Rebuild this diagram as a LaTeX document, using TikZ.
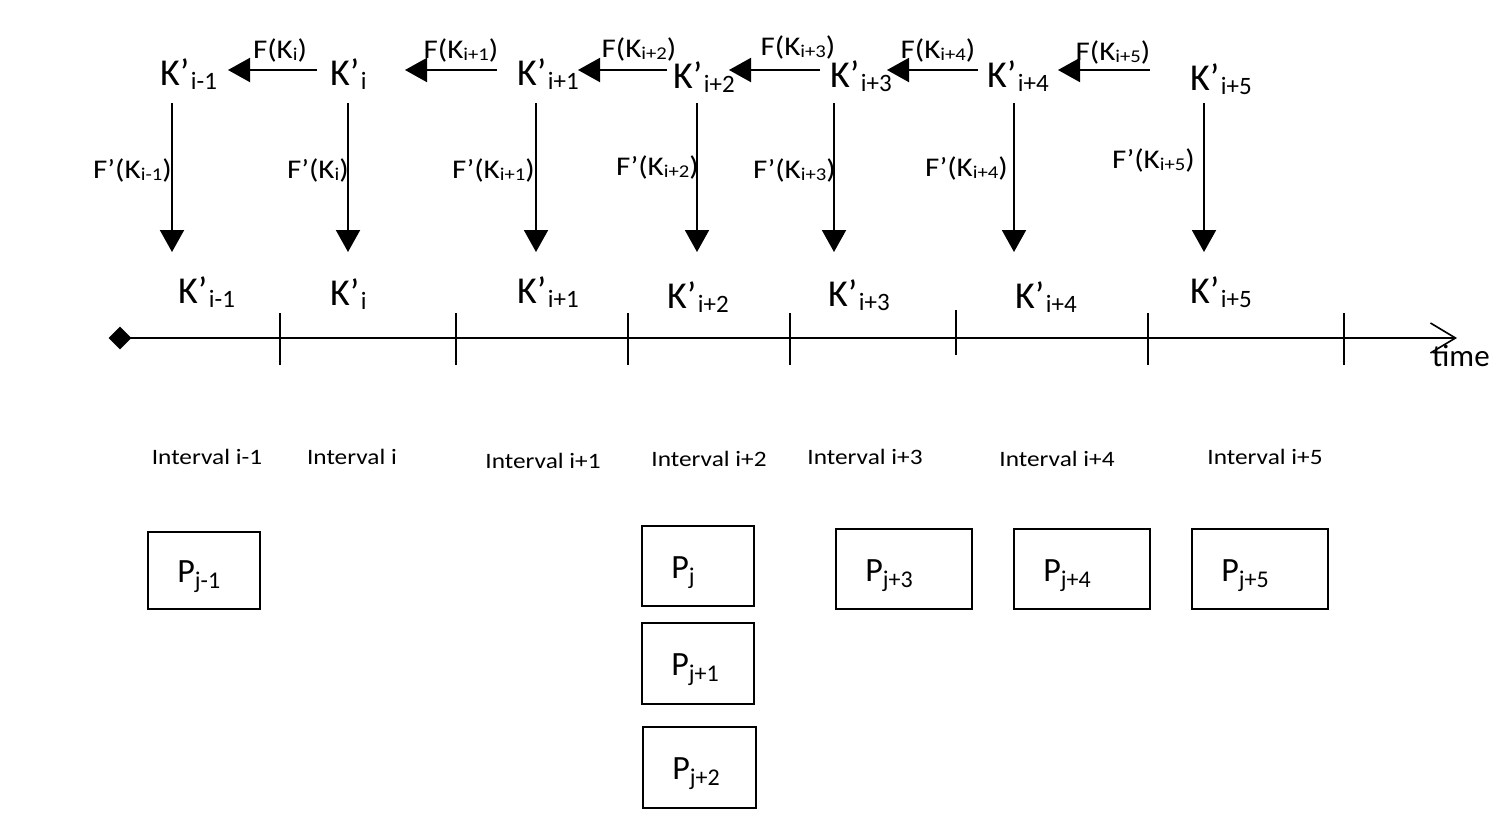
\documentclass[tikz,border=0pt]{standalone}
\usepackage{fontspec}
\setmainfont{Carlito}
\newfontfamily\widefont{Carlito}[FakeStretch=1.15]
\usetikzlibrary{arrows.meta,shapes.geometric}
\newcommand\kp[1]{K’\kern1.5pt{\fontsize{25}{25}\selectfont\raisebox{-4pt}{#1}}}
\newcommand\fl[2]{#1(K{\fontsize{18}{18}\selectfont\raisebox{-2pt}{#2}})}
\newcommand\pp[1]{P{\fontsize{24}{24}\selectfont\raisebox{-6pt}{#1}}}
\begin{document}
\begin{tikzpicture}[x=1pt,y=-1pt,
  kstyle/.style={inner sep=0pt,anchor=base west,font=\fontsize{38}{38}\selectfont},
  flab/.style={inner sep=0pt,font=\widefont\fontsize{27}{27}\selectfont},
  ivl/.style={inner sep=0pt,font=\widefont\fontsize{22}{22}\selectfont},
  pbox/.style={draw,line width=1.6pt,inner sep=0pt,minimum width=112pt,minimum height=80pt},
  ptxt/.style={inner sep=0pt,anchor=base west,font=\fontsize{34}{34}\selectfont},
  harr/.style={line width=2pt,-{Triangle[length=22pt,width=24pt]}},
  tick/.style={line width=1.6pt},
]
\useasboundingbox (0,0) rectangle (1502,830);

% top row
\node[kstyle] (t1) at (160,85) {\kp{i-1}};
\node[kstyle] (t2) at (330,85) {\kp{i}};
\node[kstyle] (t3) at (517,85) {\kp{i+1}};
\node[kstyle] (t4) at (673,88) {\kp{i+2}};
\node[kstyle] (t5) at (830,87) {\kp{i+3}};
\node[kstyle] (t6) at (987,87) {\kp{i+4}};
\node[kstyle] (t7) at (1190,90) {\kp{i+5}};

% bottom row
\node[kstyle] (b1) at (178,303) {\kp{i-1}};
\node[kstyle] (b2) at (330,305) {\kp{i}};
\node[kstyle] (b3) at (517,303) {\kp{i+1}};
\node[kstyle] (b4) at (667,308) {\kp{i+2}};
\node[kstyle] (b5) at (828,306) {\kp{i+3}};
\node[kstyle] (b6) at (1015,308) {\kp{i+4}};
\node[kstyle] (b7) at (1190,303) {\kp{i+5}};

% horizontal arrows
\coordinate (h1s) at (317,70); \coordinate (h1e) at (228,70);
\coordinate (h2s) at (497,70); \coordinate (h2e) at (405,70);
\coordinate (h3s) at (667,70); \coordinate (h3e) at (578,70);
\coordinate (h4s) at (820,70); \coordinate (h4e) at (729,70);
\coordinate (h5s) at (978,70); \coordinate (h5e) at (887,70);
\coordinate (h6s) at (1150,70); \coordinate (h6e) at (1058,70);
\foreach \i in {1,...,6} {\draw[harr] (h\i s) -- (h\i e);}
\node[flab] (f1) at (280,50) {\fl{F}{i}};
\node[flab] (f2) at (461,50) {\fl{F}{i+1}};
\node[flab] (f3) at (639,49) {\fl{F}{i+2}};
\node[flab] (f4) at (798,47) {\fl{F}{i+3}};
\node[flab] (f5) at (938,50) {\fl{F}{i+4}};
\node[flab] (f6) at (1113,52) {\fl{F}{i+5}};

% vertical arrows
\foreach \n/\x in {1/172,2/348,3/536,4/697,5/834,6/1014,7/1204} {
  \coordinate (v\n s) at (\x,103);
  \coordinate (v\n e) at (\x,252);
  \draw[harr] (v\n s) -- (v\n e);
}
\node[flab,anchor=east] (g1) at (172,170) {\fl{F’}{i-1}};
\node[flab,anchor=east] (g2) at (349,170) {\fl{F’}{i}};
\node[flab,anchor=east] (g3) at (535,170) {\fl{F’}{i+1}};
\node[flab,anchor=east] (g4) at (699,167) {\fl{F’}{i+2}};
\node[flab,anchor=east] (g5) at (836,170) {\fl{F’}{i+3}};
\node[flab,anchor=east] (g6) at (1008,168) {\fl{F’}{i+4}};
\node[flab,anchor=east] (g7) at (1195,160) {\fl{F’}{i+5}};

% time axis
\node[diamond,fill=black,inner sep=0pt,minimum width=23pt,minimum height=23pt] (start) at (120,338) {};
\coordinate (tend) at (1457,338);
\draw[line width=1.6pt,-{Straight Barb[length=25pt,width=30pt,line width=1.6pt]}] (start.center) -- (tend);
\foreach \x in {280,456,628,790,1148,1344} {\draw[tick] (\x,313) -- (\x,365);}
\draw[tick] (956,310) -- (956,355);
\node[inner sep=0pt,anchor=base west,font=\fontsize{31}{31}\selectfont] (time) at (1432,366) {time};

% intervals
\node[ivl] (i1) at (207,457) {Interval i-1};
\node[ivl] (i2) at (352,457) {Interval i};
\node[ivl] (i3) at (543,461) {Interval i+1};
\node[ivl] (i4) at (709,459) {Interval i+2};
\node[ivl] (i5) at (865,457) {Interval i+3};
\node[ivl] (i6) at (1057,459) {Interval i+4};
\node[ivl] (i7) at (1265,457) {Interval i+5};

% boxes
\node[pbox,minimum width=112pt,minimum height=77pt] (p1) at (204,570.5) {};
\node[pbox,minimum width=112pt,minimum height=80pt] (p2) at (698,566) {};
\node[pbox,minimum width=112pt,minimum height=81pt] (p3) at (698,663.5) {};
\node[pbox,minimum width=113pt,minimum height=81pt] (p4) at (699.5,767.5) {};
\node[pbox,minimum width=136pt,minimum height=80pt] (p5) at (904,569) {};
\node[pbox,minimum width=136pt,minimum height=80pt] (p6) at (1082,569) {};
\node[pbox,minimum width=136pt,minimum height=80pt] (p7) at (1260,569) {};
\node[ptxt] (q1) at ([xshift=30pt,yshift=-12pt]p1.center -| p1.west) {\pp{j-1}};
\node[ptxt] (q2) at ([xshift=30pt,yshift=-12pt]p2.center -| p2.west) {\pp{j}};
\node[ptxt] (q3) at ([xshift=30pt,yshift=-12pt]p3.center -| p3.west) {\pp{j+1}};
\node[ptxt] (q4) at ([xshift=30pt,yshift=-12pt]p4.center -| p4.west) {\pp{j+2}};
\node[ptxt] (q5) at ([xshift=30pt,yshift=-12pt]p5.center -| p5.west) {\pp{j+3}};
\node[ptxt] (q6) at ([xshift=30pt,yshift=-12pt]p6.center -| p6.west) {\pp{j+4}};
\node[ptxt] (q7) at ([xshift=30pt,yshift=-12pt]p7.center -| p7.west) {\pp{j+5}};
\end{tikzpicture}
\end{document}
